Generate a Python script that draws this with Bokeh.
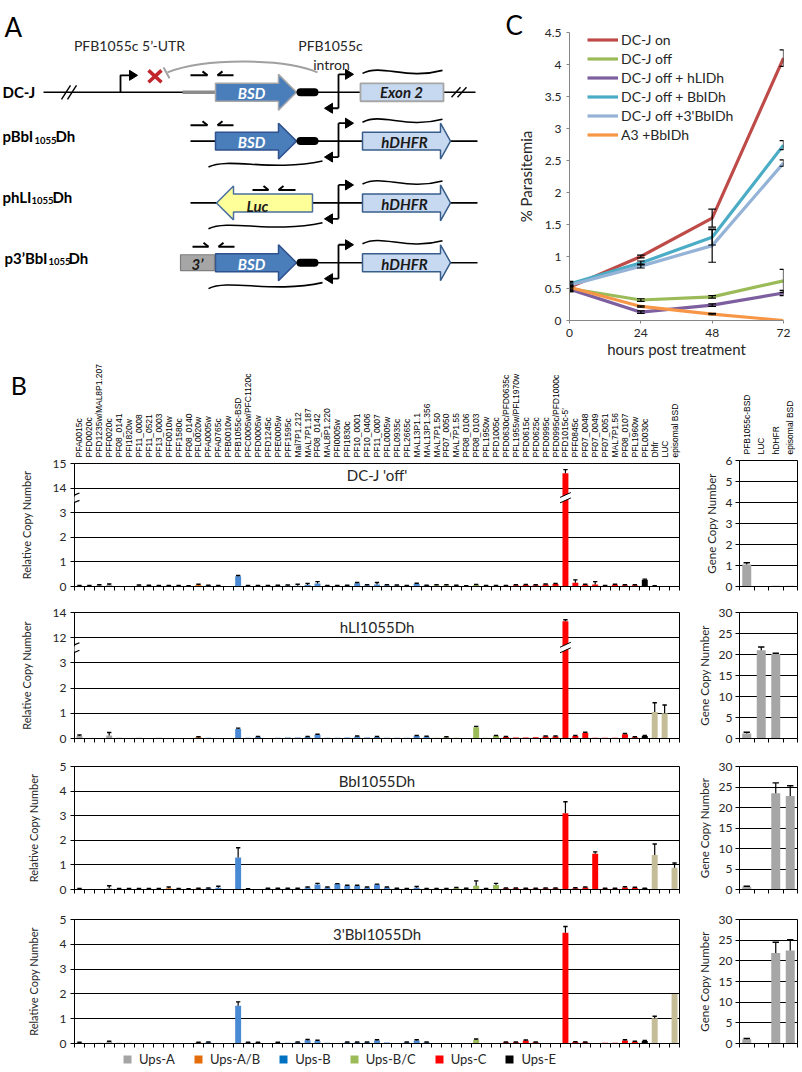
import math
from bokeh.plotting import figure
from bokeh.layouts import column, row
from bokeh.models import (Range1d, FixedTicker, Label, Legend, LegendItem,
                          BoxAnnotation, Arrow, LinearAxis)
from bokeh.core.properties import value
from bokeh.embed import file_html
from bokeh.resources import INLINE

LATO = "Lato"
ARIAL = "Liberation Sans"

# ---------------- Panel C data ----------------
hours = [0, 24, 48, 72]
c_labels = ["DC-J on", "DC-J off", "DC-J off + hLIDh", "DC-J off + BbIDh",
            "DC-J off +3'BbIDh", "A3 +BbIDh"]
c_dcj_on = [0.52, 1.00, 1.60, 4.10]
c_dcj_off = [0.50, 0.32, 0.37, 0.62]
c_hlidh = [0.49, 0.13, 0.24, 0.43]
c_bbidh = [0.57, 0.90, 1.30, 2.74]
c_3bbidh = [0.55, 0.85, 1.17, 2.46]
c_a3 = [0.52, 0.22, 0.10, 0.00]
e_dcj_on = [0.05, 0.02, 0.14, 0.13]
e_dcj_off = [0.05, 0.02, 0.02, 0.18]
e_hlidh = [0.04, 0.02, 0.02, 0.04]
e_bbidh = [0.04, 0.03, 0.12, 0.07]
e_3bbidh = [0.04, 0.03, 0.26, 0.05]
e_a3 = [0.03, 0.01, 0.01, 0.00]
c_colors = ["#be4b48", "#9bbb59", "#7d5fa0", "#4bacc6", "#95b3d7", "#f79646"]

# ---------------- Panel B data ----------------
genes = ["PFA0015c", "PFD0020c", "PFD1235w/MAL8P1.207", "PFF0020c", "PF08_0141",
         "PFI1820w", "PF11_0008", "PF11_0521", "PF13_0003", "PFF0010w", "PFF1580c",
         "PF08_0140", "PFL0020w", "PFA0005w", "PFA0765c", "PFB0010w", "PFB1055c-BSD",
         "PFC0005w/PFC1120c", "PFD0005w", "PFD1245c", "PFE0005w", "PFF1595c",
         "Mal7P1.212", "MAL7P1.187", "PF08_0142", "MAL8P1.220", "PFI0005w", "PFI1830c",
         "PF10_0001", "PF10_0406", "PF11_0007", "PFL0005w", "PFL0935c", "PFL2665c",
         "MAL13P1.1", "MAL13P1.356", "MAL7P1.50", "PF07_0050", "MAL7P1.55", "PF08_0106",
         "PF08_0103", "PFL1950w", "PFD1005c", "PFD0630c/PFD0635c", "PFL1955w/PFL1970w",
         "PFD0615c", "PFD0625c", "PFD0995c", "PFD0995c/PFD1000c", "PFD1015c-5'",
         "PFF0845c", "PF07_0048", "PF07_0049", "PF07_0051", "MAL7P1.56", "PF08_0107",
         "PFL1960w", "PFL0030c", "Dhfr", "LUC", "episomal BSD"]
gene_groups = (["A"] * 9 + ["AB", "A", "A", "AB"] + ["B"] * 23 + ["BC"] * 7
               + ["C"] * 14 + ["E"] + ["ctl"] * 3)
group_colors = {"A": "#a5a5a5", "AB": "#e46c0a", "B": "#4a8ad4", "BC": "#9bbb59",
                "C": "#ff0000", "E": "#000000", "ctl": "#c4bd97"}
legend_names = ["Ups-A", "Ups-A/B", "Ups-B", "Ups-B/C", "Ups-C", "Ups-E"]
legend_colors = ["#a5a5a5", "#e46c0a", "#0070c0", "#9bbb59", "#ff0000", "#000000"]

dcj_vals = [.03, .03, .05, .06, .02, .01, .04, .04, .03, .03, .03, .02, .06, .04, .03, .01,
            .42, .03, .03, .03, .04, .04, .03, .06, .12, .03, .03, .04, .13, .05, .08, .05,
            .04, .03, .10, .04, .05, .05, .04, .02, .06, .03, .03, .03, .05, .06, .05, .08,
            .10, 14.6, .15, .07, .08, .03, .07, .05, .05, .27, .02, .02, .02]
dcj_errs = [.01, .01, .02, .04, 0, 0, .02, .01, .01, .01, .01, .01, .03, .01, .01, 0,
            .03, .01, .01, .01, .01, .02, .06, .06, .08, .01, .01, .01, .03, .02, .08, .02,
            .02, .01, .03, .01, .02, .02, .01, .01, .02, .01, .01, .01, .02, .02, .02, .02,
            .02, .15, .12, .02, .12, .01, .02, .02, .02, .03, .01, 0, 0]
hli_vals = [.10, .02, .02, .12, .03, .02, .03, .02, .03, .02, .02, .02, .05, .03, .02, .02,
            .38, .03, .06, .02, .03, .04, .04, .06, .15, .03, .03, .04, .08, .04, .06, .03,
            .03, .03, .10, .07, .03, .05, .03, .02, .45, .03, .10, .06, .04, .04, .05, .08,
            .08, 13.3, .10, .22, .03, .03, .03, .17, .05, .10, 1.05, 1.00, 0]
hli_errs = [.04, 0, 0, .12, 0, 0, 0, 0, 0, 0, 0, 0, .02, 0, 0, 0,
            .03, 0, .02, 0, 0, 0, 0, .02, .02, 0, 0, 0, .02, 0, .02, 0,
            0, 0, .02, .02, 0, .02, 0, 0, .03, 0, .02, .02, 0, 0, 0, .02,
            .02, .12, .02, .03, 0, 0, 0, .03, .02, .02, .37, .33, 0]
bbi_vals = [.03, .02, .02, .05, .03, .03, .03, .03, .03, .05, .03, .02, .04, .05, .07, .01,
            1.30, .02, .02, .04, .04, .04, .04, .08, .20, .08, .22, .15, .15, .08, .20, .08,
            .04, .03, .07, .03, .03, .03, .06, .04, .15, .03, .18, .05, .05, .04, .04, .05,
            .05, 3.10, .05, .08, 1.45, .04, .04, .08, .07, .04, 1.40, 0, .88]
bbi_errs = [.01, 0, 0, .10, .01, .01, .01, .01, .01, .05, .01, .01, .01, .01, .06, 0,
            .40, .01, 0, .01, .01, .01, .01, .02, .05, .02, .02, .02, .02, .02, .02, .02,
            .01, .01, .05, .01, .01, .01, .02, .01, .20, .01, .07, .01, .01, .01, .01, .01,
            .01, .47, .02, .02, .08, .01, .01, .03, .02, .01, .45, 0, .20]
tbb_vals = [.04, .02, .03, .07, .03, .03, .02, .01, .01, .01, .01, .01, .04, .05, .01, .01,
            1.52, .04, .04, .02, .04, .03, .05, .13, .10, .03, .02, .05, .05, .05, .12, .04,
            .02, .05, .12, .05, .02, .02, .02, .02, .15, .02, .02, .05, .05, .12, .05, .02,
            .02, 4.47, .06, .05, .02, .03, .03, .12, .07, .10, 1.02, 0, 2.00]
tbb_errs = [.01, 0, 0, .02, 0, 0, 0, 0, 0, 0, 0, 0, .01, .01, 0, 0,
            .16, .01, .01, 0, .01, 0, .01, .03, .03, 0, 0, .01, .01, .01, .03, 0,
            0, .01, .03, .01, 0, 0, 0, 0, .03, 0, 0, .01, .01, .02, .01, 0,
            0, .25, .01, .01, 0, 0, 0, .03, .02, .02, .08, 0, 0]

r_genes = ["PFB1055c-BSD", "LUC", "hDHFR", "episomal BSD"]
r_dcj_vals = [1.05, 0, 0.03, 0.03]
r_dcj_errs = [0.08, 0, 0, 0]
r_hli_vals = [1.2, 21.0, 20.1, 0]
r_hli_errs = [0.3, 0.8, 0.2, 0]
r_bbi_vals = [0.7, 0, 23.5, 22.8]
r_bbi_errs = [0.1, 0, 2.5, 2.5]
r_tbb_vals = [1.0, 0, 21.9, 22.5]
r_tbb_errs = [0.2, 0, 2.6, 2.6]
r_color = "#a6a6a6"

TXT = "#262626"


def base_fig(**kw):
    return figure(output_backend="svg", toolbar_location=None, **kw)


# =============== Panel A (schematic) ===============
# frame borders match panel C so the two frames line up (y axis = page pixels)
pa = base_fig(width=478, height=360, x_range=Range1d(0, 478), y_range=Range1d(321, 32),
              x_axis_location=None, y_axis_location=None, min_border_left=0,
              min_border_right=0, min_border_top=32, min_border_bottom=39)
pa.outline_line_color = None
pa.center = []
rows_y = [92, 141, 203, 263]

pa.add_layout(Label(x=4, y=26, text="A", text_font=LATO, text_font_size="26px",
                    text_baseline="alphabetic", text_color="black"), "above")
pa.text(x=[129, 330, 331], y=[45, 45, 64], text=["PFB1055c 5\u2019-UTR", "PFB1055c", "intron"],
        text_font=value(LATO), text_font_size="14px", text_align="center",
        text_baseline="middle", text_color=TXT)

# backbones
pa.segment(x0=[43, 190, 190, 214], y0=rows_y, x1=[475, 477, 477, 477], y1=rows_y,
           line_color="black", line_width=1.6)
pa.segment(x0=[182], y0=[92], x1=[215], y1=[92], line_color="#8c8c8c", line_width=3.5)
# break marks
pa.segment(x0=[61, 67, 451, 457], y0=[99, 99, 97, 97], x1=[70, 76, 460, 466], y1=[85, 85, 87, 87],
           line_color="black", line_width=1.4)
# promoter with red cross and inhibition
pa.line(x=[120, 120, 129], y=[92, 75, 75], line_color="black", line_width=1.8)
pa.patch(x=[137, 129, 129], y=[75, 70, 80], color="black")
pa.segment(x0=[148, 148], y0=[70, 82], x1=[161, 161], y1=[82, 70], line_color="#c0262b",
           line_width=3.5)
pa.bezier(x0=[167], y0=[72], x1=[317], y1=[72], cx0=[205], cy0=[57], cx1=[285], cy1=[58],
          line_color="#a0a0a0", line_width=2)
pa.segment(x0=[163], y0=[67], x1=[169], y1=[78], line_color="#a0a0a0", line_width=2)


def right_arrow(x0, x1, tip, c, h, H):
    return [x0, x1, x1, tip, x1, x1, x0], [c - h, c - h, c - H, c, c + H, c + h, c + h]


def left_arrow(tip, xb, x1, c, h, H):
    return [tip, xb, xb, x1, x1, xb, xb], [c, c - H, c - h, c - h, c + h, c + h, c + H]


# BSD arrows
for i, c in zip([0, 1, 3], [92, 141, 263]):
    xs, ys = right_arrow(215, 278, 296, c, 9, 18)
    pa.patch(x=xs, y=ys, fill_color="#4a7ebb",
             line_color="#a6a6a6" if i == 0 else "#2f528f", line_width=1.5)
    pa.text(x=[251], y=[c + 1], text=["BSD"], text_font=value(LATO), text_font_size="15px",
            text_font_style="bold italic", text_color="white", text_align="center",
            text_baseline="middle")
    pa.segment(x0=[300], y0=[c], x1=[314], y1=[c], line_color="black", line_width=8,
               line_cap="round")
# Luc arrow
xs, ys = left_arrow(216, 233, 312, 203, 9, 17)
pa.patch(x=xs, y=ys, fill_color="#ffff99", line_color="#4a6fa0", line_width=1.5)
pa.text(x=[257], y=[206], text=["Luc"], text_font=value(LATO), text_font_size="15px",
        text_font_style="bold italic", text_color="#1a1a1a", text_align="center",
        text_baseline="middle")
# 3' box
pa.quad(left=[180], right=[214], top=[255], bottom=[271], fill_color="#a6a6a6",
        line_color="#7f7f7f", line_width=1.2)
pa.text(x=[197], y=[264], text=["3\u2019"], text_font=value(LATO), text_font_size="15px",
        text_font_style="bold italic", text_color="#1a1a1a", text_align="center",
        text_baseline="middle")
# Exon 2 box
pa.quad(left=[360], right=[443], top=[83], bottom=[101], fill_color="#c6d9f1",
        line_color="#a6a6a6", line_width=1.8)
pa.text(x=[401], y=[92], text=["Exon 2"], text_font=value(LATO), text_font_size="15px",
        text_font_style="bold italic", text_color="#1a1a1a", text_align="center",
        text_baseline="middle")
# hDHFR arrows
for c in rows_y[1:]:
    xs, ys = right_arrow(362, 440, 450, c, 9, 18)
    pa.patch(x=xs, y=ys, fill_color="#c6d9f1", line_color="#385d8a", line_width=1.5)
    pa.text(x=[404], y=[c + 1], text=["hDHFR"], text_font=value(LATO), text_font_size="15px",
            text_font_style="bold italic", text_color="#1a1a1a", text_align="center",
            text_baseline="middle")
# bidirectional promoters and transcripts
for c in rows_y:
    pa.line(x=[338, 338], y=[c - 18, c + 16], line_color="black", line_width=1.8)
    pa.line(x=[338, 346], y=[c - 18, c - 18], line_color="black", line_width=1.8)
    pa.patch(x=[353, 345, 345], y=[c - 18, c - 23, c - 13], color="black")
    pa.line(x=[338, 331], y=[c + 16, c + 16], line_color="black", line_width=1.8)
    pa.patch(x=[324, 332, 332], y=[c + 16, c + 11, c + 21], color="black")
    pa.bezier(x0=[362], y0=[c - 19], x1=[442], y1=[c - 22], cx0=[382], cy0=[c - 29],
              cx1=[405], cy1=[c - 12], line_color="black", line_width=1.6)
for c in rows_y[1:]:
    pa.bezier(x0=[208], y0=[c + 26], x1=[322], y1=[c + 20], cx0=[228], cy0=[c + 16],
              cx1=[272], cy1=[c + 31], line_color="black", line_width=1.6)
# primers
for c, (a1, b1, a2, b2) in zip([75, 125, 190, 247],
                               [(190, 207, 217, 233), (190, 207, 217, 233),
                                (252, 268, 278, 295), (192, 208, 218, 234)]):
    pa.segment(x0=[a1, b1 - 5, a2, a2], y0=[c, c - 4, c, c], x1=[b1, b1, b2, a2 + 5],
               y1=[c, c, c, c - 4], line_color="black", line_width=2)
# row labels
lab_kw = dict(text_font=value(LATO), text_font_style="bold", text_color="black",
              text_baseline="middle")
pa.text(x=[2], y=[92], text=["DC-J"], text_font_size="15px", **lab_kw)
pa.text(x=[2, 55, 2, 52, 4, 68], y=[136, 136, 197, 197, 258, 258],
        text=["pBbI", "Dh", "phLI", "Dh", "p3\u2019BbI", "Dh"], text_font_size="15px", **lab_kw)
pa.text(x=[34, 31, 48], y=[140, 201, 262], text=["1055", "1055", "1055"],
        text_font_size="9.5px", **lab_kw)

# =============== Panel C (line chart) ===============
pc = base_fig(width=324, height=360, x_range=Range1d(0, 72), y_range=Range1d(0, 4.5),
              min_border_left=91, min_border_right=19, min_border_top=32, min_border_bottom=39)
pc.outline_line_color = None
pc.grid.visible = False
series = [c_dcj_on, c_dcj_off, c_hlidh, c_bbidh, c_3bbidh, c_a3]
errors = [e_dcj_on, e_dcj_off, e_hlidh, e_bbidh, e_3bbidh, e_a3]
items = []
for lab, vals, col in zip(c_labels, series, c_colors):
    r = pc.line(x=hours, y=vals, line_color=col, line_width=3.2)
    items.append(LegendItem(label=lab, renderers=[r]))
for vals, errs in zip(series, errors):
    xs = [h for h, e in zip(hours, errs) if e > 0]
    lo = [v - e for v, e in zip(vals, errs) if e > 0]
    hi = [v + e for v, e in zip(vals, errs) if e > 0]
    pc.segment(x0=xs, y0=lo, x1=xs, y1=hi, line_color="black", line_width=1.2)
    pc.segment(x0=[x - 1.3 for x in xs], y0=hi, x1=[x + 1.3 for x in xs], y1=hi,
               line_color="black", line_width=1.2)
    pc.segment(x0=[x - 1.3 for x in xs], y0=lo, x1=[x + 1.3 for x in xs], y1=lo,
               line_color="black", line_width=1.2)
pc.xaxis.ticker = FixedTicker(ticks=hours)
pc.yaxis.ticker = FixedTicker(ticks=[i * 0.5 for i in range(10)])
pc.yaxis.major_label_overrides = {0: "0", 1: "1", 2: "2", 3: "3", 4: "4"}
for ax in (pc.xaxis[0], pc.yaxis[0]):
    ax.axis_line_color = "#868686"
    ax.major_tick_line_color = "#868686"
    ax.major_tick_out = 3
    ax.major_tick_in = 0
    ax.minor_tick_line_color = None
    ax.major_label_text_font = LATO
    ax.major_label_text_font_size = "12px"
    ax.major_label_text_color = TXT
    ax.axis_label_text_font = LATO
    ax.axis_label_text_font_size = "15px"
    ax.axis_label_text_font_style = "normal"
    ax.axis_label_text_color = TXT
pc.xaxis.axis_label = "hours post treatment"
pc.yaxis.axis_label = "% Parasitemia"
pc.xaxis.major_label_standoff = 5
pc.xaxis.axis_label_standoff = 0
pc.yaxis.major_label_standoff = 5
pc.yaxis.axis_label_standoff = 7
legc = Legend(items=items, location=(18, 176.5), orientation="vertical", padding=0,
              spacing=0, margin=0, glyph_width=31, glyph_height=19, label_height=19,
              label_standoff=3, border_line_color=None, background_fill_alpha=0,
              label_text_font=LATO, label_text_font_size="14px", label_text_color=TXT)
pc.add_layout(legc)
# panel letter, in data units of the frame scales (x=505 px, baseline y=25 px)
pc.add_layout(Label(x=-21.5, y=4.61, text="C", text_font=LATO, text_font_size="26px",
                    text_baseline="alphabetic", text_color="black"), "above")


# =============== Panel B (bar charts) ===============
def style_axis(ax):
    ax.axis_line_color = "black"
    ax.major_tick_line_color = "black"
    ax.minor_tick_line_color = None
    ax.major_tick_in = 0
    ax.major_label_text_font = LATO
    ax.major_label_text_color = TXT
    ax.axis_label_text_font = LATO
    ax.axis_label_text_font_style = "normal"
    ax.axis_label_text_color = TXT


def add_errbars(p, xs, tops, err_tops, half):
    ex = [x for x, t, e in zip(xs, tops, err_tops) if e > t]
    lo = [t for t, e in zip(tops, err_tops) if e > t]
    hi = [e for t, e in zip(tops, err_tops) if e > t]
    p.segment(x0=ex, y0=lo, x1=ex, y1=hi, line_color="black", line_width=1.2)
    p.segment(x0=[x - half for x in ex], y0=hi, x1=[x + half for x in ex], y1=hi,
              line_color="black", line_width=1.4)


def left_panel(vals, errs, title, height, top_b, bottom_b, tf=None, ylabels=None,
               gene_axis=False):
    fh = height - top_b - bottom_b
    p = base_fig(width=694, height=height, x_range=Range1d(-0.5, 60.5), y_range=Range1d(0, 5),
                 min_border_left=72, min_border_right=15, min_border_top=top_b,
                 min_border_bottom=bottom_b)
    p.outline_line_color = "black"
    p.xgrid.visible = False
    p.ygrid.ticker = FixedTicker(ticks=[1, 2, 3, 4])
    p.ygrid.grid_line_color = "black"
    p.ygrid.grid_line_width = 1.2
    broken = tf is not None
    tf = tf or (lambda v: v)
    xs = list(range(len(genes)))
    tops = [tf(v) for v in vals]
    err_tops = [tf(v + e) if e > 0 else tf(v) for v, e in zip(vals, errs)]
    colors = [group_colors[g] for g in gene_groups]
    p.vbar(x=xs, top=tops, width=0.6, fill_color=colors, line_color=None)
    add_errbars(p, xs, tops, err_tops, 0.22)
    xa = p.xaxis[0]
    style_axis(xa)
    bticks = [i - 0.5 for i in range(62)]
    xa.ticker = FixedTicker(ticks=bticks)
    xa.major_label_overrides = {t: "" for t in bticks}
    xa.major_tick_out = 4
    xa.major_label_text_font_size = "1px"
    xa.major_label_standoff = 0
    ya = p.yaxis[0]
    style_axis(ya)
    ya.ticker = FixedTicker(ticks=[0, 1, 2, 3, 4, 5])
    if ylabels:
        ya.major_label_overrides = ylabels
    ya.major_tick_out = 4
    ya.major_label_standoff = 4
    ya.major_label_text_font_size = "12px"
    ya.axis_label = "Relative Copy Number"
    ya.axis_label_text_font_size = "11px"
    ya.axis_label_standoff = 17
    if gene_axis:
        ga = LinearAxis(ticker=FixedTicker(ticks=xs),
                        major_label_overrides={i: g for i, g in enumerate(genes)},
                        major_label_orientation=math.pi / 2, major_tick_out=0, major_tick_in=0,
                        axis_line_color=None, major_tick_line_color=None,
                        minor_tick_line_color=None, major_label_standoff=6,
                        major_label_text_font=ARIAL, major_label_text_font_size="8.5px",
                        major_label_text_color="black")
        p.add_layout(ga, "above")
    p.add_layout(Label(x=30, y=fh - 14, x_units="data", y_units="screen", text=title,
                       text_align="center", text_baseline="middle", text_font=LATO,
                       text_font_size="15px", text_color=TXT))
    if broken:
        k = vals.index(max(vals))
        # broken bar
        p.patch(x=[k - 0.4, k + 0.4, k + 0.4, k - 0.4], y=[3.42, 3.58, 3.80, 3.64],
                fill_color="white", line_color=None)
        p.segment(x0=[k - 0.55, k - 0.55], y0=[3.40, 3.62], x1=[k + 0.55, k + 0.55],
                  y1=[3.60, 3.82], line_color="black", line_width=1)
        # broken axis (drawn in the left side panel so it is not clipped)
        p.add_layout(BoxAnnotation(left=-0.85, right=-0.38, bottom=3.45, top=3.66,
                                   fill_color="white", fill_alpha=1, line_alpha=0,
                                   level="overlay"), "left")
        p.add_layout(Arrow(end=None, x_start=-1.1, y_start=3.32, x_end=0.0, y_end=3.50,
                           line_color="black", line_width=1.2, level="overlay"), "left")
        p.add_layout(Arrow(end=None, x_start=-1.1, y_start=3.62, x_end=0.0, y_end=3.80,
                           line_color="black", line_width=1.2, level="overlay"), "left")
    return p


def tf_dcj(v):
    return v if v <= 3 else v - 10


def tf_hli(v):
    return v if v <= 3 else 4 + (v - 12) / 2


B1 = left_panel(dcj_vals, dcj_errs, "DC-J 'off'", 238, 100, 12, tf=tf_dcj,
                ylabels={4: "14", 5: "15"}, gene_axis=True)
# panel letter B: data units of the frame scales, placed at x=8 px, baseline y=380 px
B1.add_layout(Label(x=-6.93, y=(586 - 380) / 25.2, text="B", text_font=LATO,
                    text_font_size="25px", text_baseline="alphabetic", text_color="black"),
              "left")
B2 = left_panel(hli_vals, hli_errs, "hLI1055Dh", 152, 14, 12, tf=tf_hli,
                ylabels={4: "12", 5: "14"})
B3 = left_panel(bbi_vals, bbi_errs, "BbI1055Dh", 151, 16, 12)
B4 = left_panel(tbb_vals, tbb_errs, "3'BbI1055Dh", 148, 18, 6)

# legend strip (zero-height swatch renderers only feed the legend)
pl = base_fig(width=694, height=23, x_range=Range1d(0, 1), y_range=Range1d(0, 1),
              x_axis_location=None, y_axis_location=None, min_border=0,
              min_border_left=72, min_border_right=15)
pl.outline_line_color = None
pl.center = []
litems = []
for name, col in zip(legend_names, legend_colors):
    r = pl.vbar(x=[0.5], top=[0], bottom=[0], width=0.01, fill_color=col, line_color=None)
    litems.append(LegendItem(label=name, renderers=[r]))
pl.add_layout(Legend(items=litems, orientation="horizontal", location=(48, 5), padding=0,
                     margin=0, spacing=18, glyph_width=10, glyph_height=10, label_height=12,
                     label_standoff=7, border_line_color=None, background_fill_alpha=0,
                     label_text_font=LATO, label_text_font_size="13px",
                     label_text_color=TXT))


def right_panel(vals, errs, ymax, step, height, top_b, bottom_b, gene_axis=False):
    p = base_fig(width=108, height=height, x_range=Range1d(-0.5, 3.5), y_range=Range1d(0, ymax),
                 min_border_left=38, min_border_right=5, min_border_top=top_b,
                 min_border_bottom=bottom_b)
    p.outline_line_color = "black"
    p.xgrid.visible = False
    ticks = list(range(0, ymax + 1, step))
    p.ygrid.ticker = FixedTicker(ticks=ticks[1:-1])
    p.ygrid.grid_line_color = "black"
    p.ygrid.grid_line_width = 1.2
    xs = list(range(4))
    p.vbar(x=xs, top=vals, width=0.62, fill_color=r_color, line_color=None)
    add_errbars(p, xs, vals, [v + e for v, e in zip(vals, errs)], 0.22)
    xa = p.xaxis[0]
    style_axis(xa)
    bt = [-0.5, 0.5, 1.5, 2.5, 3.5]
    xa.ticker = FixedTicker(ticks=bt)
    xa.major_label_overrides = {t: "" for t in bt}
    xa.major_tick_out = 4
    xa.major_label_text_font_size = "1px"
    xa.major_label_standoff = 0
    ya = p.yaxis[0]
    style_axis(ya)
    ya.ticker = FixedTicker(ticks=ticks)
    ya.major_tick_out = 4
    ya.major_label_standoff = 3
    ya.major_label_text_font_size = "12px"
    ya.axis_label = "Gene Copy Number"
    ya.axis_label_text_font_size = "11.5px"
    ya.axis_label_standoff = 5
    if gene_axis:
        ga = LinearAxis(ticker=FixedTicker(ticks=xs),
                        major_label_overrides={i: g for i, g in enumerate(r_genes)},
                        major_label_orientation=math.pi / 2, major_tick_out=0, major_tick_in=0,
                        axis_line_color=None, major_tick_line_color=None,
                        minor_tick_line_color=None, major_label_standoff=6,
                        major_label_text_font=ARIAL, major_label_text_font_size="8.5px",
                        major_label_text_color="black")
        p.add_layout(ga, "above")
    return p


R1 = right_panel(r_dcj_vals, r_dcj_errs, 6, 1, 238, 100, 12, gene_axis=True)
R2 = right_panel(r_hli_vals, r_hli_errs, 30, 5, 152, 14, 12)
R3 = right_panel(r_bbi_vals, r_bbi_errs, 30, 5, 151, 16, 12)
R4 = right_panel(r_tbb_vals, r_tbb_errs, 30, 5, 148, 18, 6)

layout = column(row(pa, pc), row(column(B1, B2, B3, B4, pl), column(R1, R2, R3, R4)))
open("out.html", "w").write(file_html(layout, INLINE))
